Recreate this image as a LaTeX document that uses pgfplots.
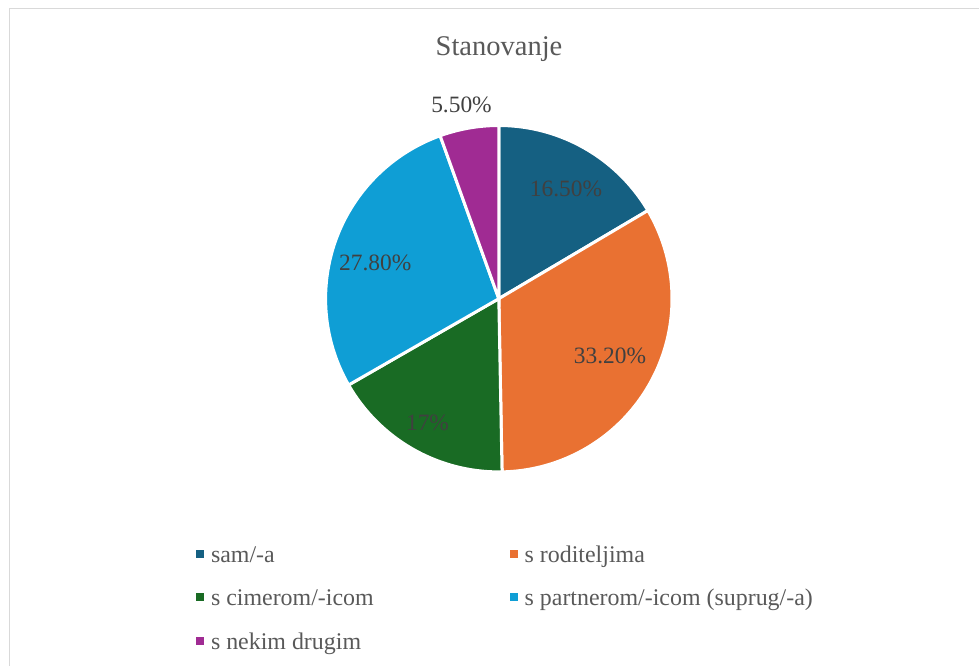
\documentclass[border=0pt]{standalone}
\usepackage{fontspec}
\setmainfont{Liberation Serif}
\usepackage{pgfplots}
\pgfplotsset{compat=1.18}
\definecolor{c1}{HTML}{156082}
\definecolor{c2}{HTML}{E97132}
\definecolor{c3}{HTML}{196B24}
\definecolor{c4}{HTML}{0F9ED5}
\definecolor{c5}{HTML}{A02B93}
\definecolor{txt}{HTML}{595959}
\definecolor{lbl}{HTML}{404040}
\definecolor{frame}{HTML}{D9D9D9}
% shares in percent
\def\pA{16.5}\def\pB{33.2}\def\pC{17}\def\pD{27.8}\def\pE{5.5}
\pgfmathsetmacro\aA{3.6*\pA}
\pgfmathsetmacro\aB{\aA+3.6*\pB}
\pgfmathsetmacro\aC{\aB+3.6*\pC}
\pgfmathsetmacro\aD{\aC+3.6*\pD}
\pgfmathsetmacro\aE{\aD+3.6*\pE}
\def\cx{498.8}\def\cy{298.7}\def\r{173.2}
\begin{document}
\begin{tikzpicture}
\begin{axis}[
  name=main,
  x=1bp, y=1bp, y dir=reverse,
  xmin=0, xmax=979, ymin=0, ymax=666,
  hide axis, clip=false,
  legend columns=2,
  legend image code/.code={\path[#1,draw=none] (0bp,4.5bp) rectangle (8bp,12.5bp);},
  legend style={draw=none, fill=none, at={(axis cs:196,545)}, anchor=north west,
    inner sep=0pt, outer sep=0pt, row sep=21.5bp,
    nodes={inner sep=0pt, outer sep=0pt, text=txt, font=\fontsize{24}{28}\selectfont, text height=17bp, text depth=5bp, anchor=base west},
    /tikz/column 1/.style={column sep=7bp},
    /tikz/column 2/.style={column sep=136bp},
    /tikz/column 3/.style={column sep=7bp},
  },
  legend cell align=left,
]
\draw[frame, line width=1.5bp] (axis cs:9.5,666) -- (axis cs:9.5,8.5) -- (axis cs:979,8.5);
\addplot[fill=c1, draw=white, line width=3bp, domain=0:\aA, samples=80, variable=\t]
  ({\cx+\r*sin(t)}, {\cy-\r*cos(t)}) -- (axis cs:\cx,\cy) -- cycle;
\addlegendentry{sam/-a}
\addplot[fill=c2, draw=white, line width=3bp, domain=\aA:\aB, samples=120, variable=\t]
  ({\cx+\r*sin(t)}, {\cy-\r*cos(t)}) -- (axis cs:\cx,\cy) -- cycle;
\addlegendentry{s roditeljima}
\addplot[fill=c3, draw=white, line width=3bp, domain=\aB:\aC, samples=80, variable=\t]
  ({\cx+\r*sin(t)}, {\cy-\r*cos(t)}) -- (axis cs:\cx,\cy) -- cycle;
\addlegendentry{s cimerom/-icom}
\addplot[fill=c4, draw=white, line width=3bp, domain=\aC:\aD, samples=100, variable=\t]
  ({\cx+\r*sin(t)}, {\cy-\r*cos(t)}) -- (axis cs:\cx,\cy) -- cycle;
\addlegendentry{s partnerom/-icom (suprug/-a)}
\addplot[fill=c5, draw=white, line width=3bp, domain=\aD:\aE, samples=40, variable=\t]
  ({\cx+\r*sin(t)}, {\cy-\r*cos(t)}) -- (axis cs:\cx,\cy) -- cycle;
\addlegendentry{s nekim drugim}
\node[anchor=base, text=txt, font=\fontsize{28.6}{32}\selectfont, inner sep=0pt] at (axis cs:499,55.7) {Stanovanje};
\begin{scope}[every node/.style={anchor=base, text=lbl, font=\fontsize{23.5}{28}\selectfont, inner sep=0pt}]
\node at (axis cs:566,196.7) {16.50\%};
\node at (axis cs:610,363.3) {33.20\%};
\node at (axis cs:427.5,430.7) {17\%};
\node at (axis cs:375.3,270.7) {27.80\%};
\node at (axis cs:461.5,112.7) {5.50\%};
\end{scope}
\end{axis}
\pgfresetboundingbox
\path (main.south west) rectangle (main.north east);
\end{tikzpicture}
\end{document}
